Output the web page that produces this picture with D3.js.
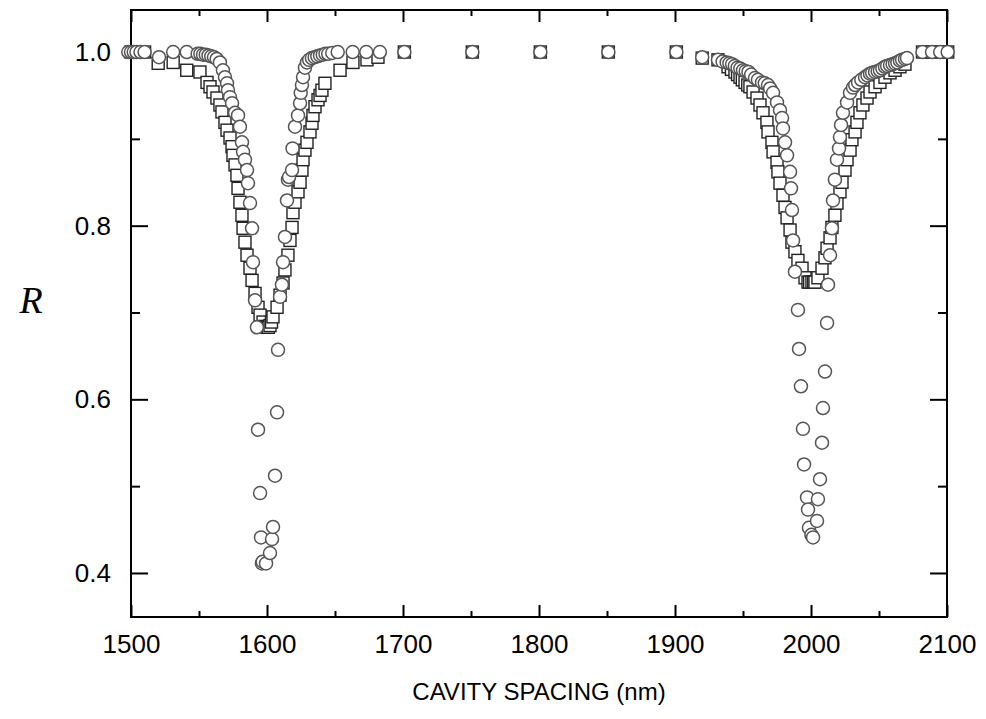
<!DOCTYPE html>
<html>
<head>
<meta charset="utf-8">
<script src="https://cdn.jsdelivr.net/npm/d3@7"></script>
<style>
	body { margin: 0; background: #fff; }
	svg { display: block; font-family: 'Liberation Sans', Arial, sans-serif; }
</style>
</head>
<body>
<div class="container"></div>
<script>
// circles series (cavity spacing in nm, reflectance R)
var circleNm = [1498, 1500, 1502, 1504, 1507, 1510, 1520.6, 1531, 1541, 1549, 1551, 1553, 1555, 1557, 1559, 1561, 1563,
	1565.4, 1567.6, 1569.1, 1570.6, 1571.3, 1572.8, 1574.3, 1576.5, 1578.7, 1580.1, 1581.6, 1582.4, 1583.8, 1585.3, 1586,
	1587.5, 1589, 1589.7, 1591.2, 1592.6, 1593.4, 1594.9, 1595.6, 1596.3, 1596.8, 1599.3, 1602.2, 1603.7, 1604.4, 1605.9,
	1607.4, 1608.1, 1609.6, 1611, 1611.8, 1613.2, 1614.7, 1615.4, 1616.2, 1618.4, 1618.8, 1620.6, 1622.8, 1624.3, 1624.8,
	1625.7, 1626.5, 1627.9, 1629.4, 1631, 1633, 1635, 1637, 1639, 1641, 1643, 1645, 1648, 1652, 1663, 1673, 1683,
	1701, 1751, 1801, 1851, 1901, 1920, 1931.6, 1935, 1938, 1940, 1942, 1944, 1946, 1948, 1950, 1952, 1954, 1956,
	1958.8, 1961, 1964, 1966, 1968.4, 1970, 1972.1, 1975, 1977.2, 1978.7, 1979.4, 1980.9, 1982.4, 1984.6, 1985.3, 1986,
	1986.8, 1988.2, 1990.4, 1991.2, 1992.6, 1994.1, 1994.9, 1997.1, 1997.8, 1998.5, 2000.3, 2001.5, 2004.4, 2005.1,
	2006.6, 2008.1, 2008.8, 2010.3, 2011.8, 2012.5, 2014, 2015.4, 2016.2, 2017.6, 2019.1, 2020.6, 2021.3, 2022.1, 2023.5,
	2026.5, 2028.7, 2030.9, 2032.5, 2034.6, 2037, 2039.7, 2041.5, 2043.4, 2045, 2047.1, 2049, 2050.7, 2052.5, 2054.4,
	2056, 2058.1, 2060, 2061.8, 2063.5, 2065.4, 2067, 2069.1, 2070.6, 2082, 2089, 2095, 2100.5];
var circleR = [1.0, 1.0, 1.0, 1.0, 1.0, 1.0, 0.994, 1.0, 1.0, 0.998, 0.998, 0.997, 0.997, 0.996, 0.995, 0.994, 0.992,
	0.988, 0.979, 0.971, 0.964, 0.956, 0.948, 0.941, 0.930, 0.927, 0.914, 0.896, 0.885, 0.876, 0.864, 0.849,
	0.826, 0.797, 0.758, 0.714, 0.683, 0.565, 0.492, 0.441, 0.411, 0.413, 0.411, 0.423, 0.439, 0.453, 0.512,
	0.585, 0.657, 0.718, 0.732, 0.758, 0.787, 0.829, 0.853, 0.856, 0.864, 0.889, 0.914, 0.927, 0.941, 0.953,
	0.962, 0.971, 0.982, 0.988, 0.991, 0.993, 0.994, 0.995, 0.996, 0.997, 0.998, 0.998, 0.999, 1.0, 1.0, 1.0, 1.0,
	1.0, 1.0, 1.0, 1.0, 1.0, 0.994, 0.991, 0.989, 0.988, 0.987, 0.986, 0.984, 0.982, 0.981, 0.979, 0.978, 0.977, 0.974,
	0.970, 0.968, 0.965, 0.964, 0.962, 0.958, 0.953, 0.942, 0.933, 0.924, 0.912, 0.896, 0.881, 0.862, 0.843, 0.818,
	0.783, 0.747, 0.703, 0.658, 0.615, 0.566, 0.525, 0.487, 0.473, 0.452, 0.444, 0.441, 0.460, 0.485,
	0.508, 0.550, 0.590, 0.632, 0.688, 0.732, 0.766, 0.797, 0.829, 0.853, 0.876, 0.889, 0.902, 0.916, 0.930,
	0.942, 0.953, 0.959, 0.962, 0.965, 0.968, 0.971, 0.973, 0.975, 0.976, 0.977, 0.978, 0.979, 0.981, 0.983,
	0.984, 0.985, 0.986, 0.987, 0.988, 0.990, 0.991, 0.992, 0.993, 1.0, 1.0, 1.0, 1.0];

// squares series
var squareNm = [1500, 1505, 1510, 1520, 1531, 1541, 1550.7, 1555.9, 1558.1, 1560.3, 1563.2, 1565.4, 1566.9, 1569.1,
	1570.6, 1572.8, 1574.3, 1575, 1576.5, 1577.9, 1578.7, 1580.1, 1581.6, 1582.4, 1583.8, 1585.3, 1587.5, 1589, 1591.2,
	1593.4, 1594.9, 1597.1, 1598.5, 1600, 1601, 1602.2, 1603.3, 1604.4, 1607.4, 1609.6, 1611.8, 1613.2, 1615.4, 1616.9,
	1618.4, 1619.1, 1620.6, 1622.8, 1624.3, 1625.7, 1626.5, 1627.9, 1629.4, 1631.6, 1633.1, 1633.8, 1635.3, 1637.5,
	1639, 1640.4, 1642.6, 1653.7, 1663.2, 1673.5, 1681.6, 1701, 1751, 1801, 1851, 1901, 1920, 1931.6, 1939, 1941.5,
	1944.1, 1946, 1947.8, 1949.5, 1951.5, 1953.5, 1955.1, 1957.4, 1960.3, 1962.5, 1964.7, 1967.6, 1968.4, 1971.3,
	1972.1, 1975, 1975.7, 1977.2, 1979.4, 1980.9, 1982.4, 1984.6, 1986, 1988.2, 1990.4, 1993.4, 1995.6, 1997.8, 1999,
	2000.7, 2002, 2002.9, 2005.1, 2008.1, 2010.3, 2011.8, 2014, 2015.4, 2017.6, 2019.1, 2021.3, 2022.8, 2025, 2026.5,
	2028.7, 2030.1, 2032.4, 2033.8, 2036, 2038.2, 2041.2, 2043.4, 2047.1, 2050.7, 2054.4, 2058.1, 2061.8, 2065.4,
	2069.1, 2082, 2089, 2095, 2100.5];
var squareR = [1.0, 1.0, 1.0, 0.987, 0.988, 0.979, 0.977, 0.965, 0.960, 0.954, 0.947, 0.939, 0.931, 0.919,
	0.910, 0.901, 0.891, 0.881, 0.870, 0.858, 0.843, 0.827, 0.812, 0.797, 0.781, 0.766, 0.751, 0.737, 0.722,
	0.706, 0.697, 0.689, 0.684, 0.683, 0.683, 0.685, 0.689, 0.695, 0.706, 0.720, 0.734, 0.749, 0.766, 0.783,
	0.798, 0.815, 0.827, 0.839, 0.850, 0.864, 0.876, 0.887, 0.896, 0.908, 0.918, 0.927, 0.937, 0.945,
	0.950, 0.956, 0.964, 0.979, 0.988, 0.991, 0.994, 1.0, 1.0, 1.0, 1.0, 1.0, 0.993, 0.991, 0.983, 0.980,
	0.977, 0.974, 0.971, 0.968, 0.965, 0.962, 0.960, 0.954, 0.947, 0.939, 0.930, 0.919, 0.908, 0.896,
	0.885, 0.873, 0.862, 0.849, 0.835, 0.821, 0.809, 0.795, 0.781, 0.770, 0.760, 0.751, 0.740, 0.735, 0.735,
	0.735, 0.735, 0.735, 0.740, 0.751, 0.763, 0.774, 0.786, 0.798, 0.812, 0.826, 0.839, 0.850, 0.864, 0.876,
	0.887, 0.899, 0.908, 0.919, 0.930, 0.939, 0.947, 0.954, 0.960, 0.965, 0.971, 0.976, 0.979, 0.983,
	0.986, 1.0, 1.0, 1.0, 1.0];

var xMajor = [1500, 1600, 1700, 1800, 1900, 2000, 2100];
var xMinor = [1550, 1650, 1750, 1850, 1950, 2050];
var yMajor = [0.4, 0.6, 0.8, 1.0];
var yMinor = [0.5, 0.7, 0.9];

var W = 986, H = 719;
var box = { left: 131, right: 947, top: 10, bottom: 617 };

var svg = d3.select('.container').append('svg')
	.attr('width', W)
	.attr('height', H);

var x = d3.scaleLinear().domain([1500, 2100]).range([box.left, box.right]);
var y = d3.scaleLinear().domain([0.3493, 1.0484]).range([box.bottom, box.top]);

// axes, ticks point inward on all four sides
function drawAxis(axis, tx, ty, noLabels) {
	var g = svg.append('g').attr('transform', 'translate(' + tx + ',' + ty + ')').call(axis);
	g.select('.domain').remove();
	g.selectAll('.tick line').attr('stroke', '#000').attr('stroke-width', 2);
	g.selectAll('.tick text').attr('fill', '#000').style('font-size', '26px');
	if (noLabels) g.selectAll('.tick text').remove();
	return g;
}

drawAxis(d3.axisBottom(x).tickValues(xMajor).tickSize(-12).tickPadding(18).tickFormat(d3.format('d')), 0, box.bottom);
drawAxis(d3.axisBottom(x).tickValues(xMinor).tickSize(-6), 0, box.bottom, true);
drawAxis(d3.axisTop(x).tickValues(xMajor).tickSize(-12), 0, box.top, true);
drawAxis(d3.axisTop(x).tickValues(xMinor).tickSize(-6), 0, box.top, true);

drawAxis(d3.axisLeft(y).tickValues(yMajor).tickSize(-17).tickPadding(20).tickFormat(d3.format('.1f')), box.left, 0);
drawAxis(d3.axisLeft(y).tickValues(yMinor).tickSize(-9), box.left, 0, true);
drawAxis(d3.axisRight(y).tickValues(yMajor).tickSize(-17), box.right, 0, true);
drawAxis(d3.axisRight(y).tickValues(yMinor).tickSize(-9), box.right, 0, true);

svg.append('rect')
	.attr('x', box.left).attr('y', box.top)
	.attr('width', box.right - box.left).attr('height', box.bottom - box.top)
	.attr('fill', 'none').attr('stroke', '#000').attr('stroke-width', 2);

// squares
var sq = 12;
svg.append('g').selectAll('rect')
	.data(squareNm.map((d, i) => ({ nm: d, r: squareR[i] })))
	.enter().append('rect')
	.attr('x', d => x(d.nm) - sq / 2)
	.attr('y', d => y(d.r) - sq / 2)
	.attr('width', sq).attr('height', sq)
	.attr('fill', '#fff')
	.attr('stroke', '#222')
	.attr('stroke-width', 1.4);

// circles
svg.append('g').selectAll('circle')
	.data(circleNm.map((d, i) => ({ nm: d, r: circleR[i] })))
	.enter().append('circle')
	.attr('cx', d => x(d.nm))
	.attr('cy', d => y(d.r))
	.attr('r', 6.5)
	.attr('fill', '#fff')
	.attr('stroke', '#555')
	.attr('stroke-width', 1.5);

// labels
svg.append('text')
	.attr('x', (box.left + box.right) / 2)
	.attr('y', 700)
	.attr('text-anchor', 'middle')
	.style('font-size', '24px')
	.text('CAVITY SPACING (nm)');

svg.append('text')
	.attr('x', 31)
	.attr('y', 313)
	.attr('text-anchor', 'middle')
	.style('font-family', "'Liberation Serif', 'Times New Roman', serif")
	.style('font-style', 'italic')
	.style('font-size', '38px')
	.text('R');
</script>
</body>
</html>
